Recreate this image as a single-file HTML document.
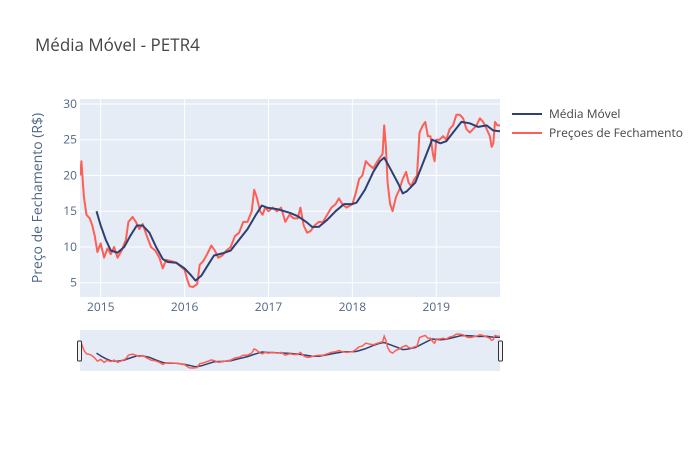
<!DOCTYPE html>
<html><head><meta charset="utf-8"><style>
body{margin:0;background:#fff;font-family:"Liberation Sans","DejaVu Sans",sans-serif}
svg text{font-family:"Open Sans","Liberation Sans","DejaVu Sans",sans-serif}
</style></head><body>
<svg id="c" width="700" height="450" xmlns="http://www.w3.org/2000/svg">
<rect width="700" height="450" fill="#fff"/>
<text x="35" y="51" font-size="17" fill="#444">Média Móvel - PETR4</text>
<rect x="80" y="99" width="420" height="198" fill="#e5ecf6"/>
<g id="grid"></g>
<g id="series" clip-path="url(#clip)"></g>
<defs><clipPath id="clip"><rect x="80" y="99" width="420" height="198"/></clipPath>
<clipPath id="clip2"><rect x="80" y="330" width="420" height="41"/></clipPath></defs>
<text transform="translate(42,198) rotate(-90)" text-anchor="middle" font-size="14" fill="#506784">Preço de Fechamento (R$)</text>
<rect x="80" y="330" width="420" height="41" fill="#e5ecf6"/>
<g id="slider" clip-path="url(#clip2)"></g>
<rect x="77.5" y="341" width="4" height="20" rx="1" fill="#f2f2f2" stroke="#333"/>
<rect x="498.5" y="341" width="4" height="20" rx="1" fill="#f2f2f2" stroke="#333"/>
<g>
<line x1="512" y1="114" x2="542" y2="114" stroke="#2e3f74" stroke-width="2"/>
<text x="549" y="118" font-size="12" fill="#444">Média Móvel</text>
<line x1="512" y1="133" x2="542" y2="133" stroke="#ef553b" stroke-width="2" style="stroke:#fe5f55"/>
<text x="549" y="137" font-size="12" fill="#444">Preçoes de Fechamento</text>
</g>
</svg>
<script>
const yTicks=[5,10,15,20,25,30];
const xTicks=[2015,2016,2017,2018,2019];
const priceT=[2014.755,2014.77,2014.8,2014.83,2014.87,2014.9,2014.93,2014.96,2015.0,2015.04,2015.08,2015.12,2015.16,2015.2,2015.25,2015.3,2015.33,2015.38,2015.42,2015.46,2015.5,2015.55,2015.6,2015.65,2015.7,2015.74,2015.78,2015.85,2015.9,2015.95,2016.0,2016.03,2016.06,2016.1,2016.15,2016.18,2016.22,2016.27,2016.32,2016.36,2016.4,2016.45,2016.5,2016.55,2016.6,2016.65,2016.7,2016.75,2016.8,2016.83,2016.86,2016.9,2016.93,2016.96,2017.0,2017.05,2017.1,2017.15,2017.2,2017.25,2017.3,2017.35,2017.38,2017.42,2017.46,2017.5,2017.55,2017.6,2017.65,2017.7,2017.75,2017.8,2017.84,2017.88,2017.93,2018.0,2018.04,2018.08,2018.12,2018.16,2018.2,2018.25,2018.3,2018.33,2018.36,2018.38,2018.4,2018.42,2018.45,2018.48,2018.52,2018.56,2018.6,2018.64,2018.67,2018.7,2018.74,2018.77,2018.8,2018.84,2018.87,2018.9,2018.93,2018.96,2018.98,2019.0,2019.04,2019.08,2019.12,2019.16,2019.2,2019.24,2019.28,2019.32,2019.36,2019.4,2019.44,2019.48,2019.52,2019.56,2019.6,2019.64,2019.66,2019.68,2019.7,2019.73,2019.76];
const priceV=[20,22,17,14.5,14,13,11.5,9.3,10.5,8.5,9.8,9,10,8.5,9.5,11,13.5,14.2,13.5,12.5,13.2,11.5,10,9.5,8.5,7,8.2,8,7.8,7.3,6.8,5.5,4.5,4.4,4.8,7.5,8,9,10.2,9.5,8.5,8.8,9.5,10,11.5,12,13.5,13.5,15,18,17,15,14.5,15.5,15,15.5,15,15.5,13.5,14.5,14,14,15.5,13,12,12.2,13,13.5,13.5,14.5,15.5,16,16.8,16,15.5,16,17.5,19.5,20,22,21.5,21,22,22.5,23,27,24,19,16,15,17,18,19.5,20.5,19,18.5,19.5,20,26,27,27.5,25.5,25.5,23,22,25,25,25.5,25,26.5,27,28.5,28.5,28,26.5,26,26.5,27,28,27.5,26.5,25.5,24,24.5,27.5,27,27];
const maT=[2014.95,2015.0,2015.06,2015.12,2015.2,2015.28,2015.35,2015.43,2015.5,2015.58,2015.66,2015.74,2015.8,2015.9,2016.0,2016.08,2016.13,2016.2,2016.28,2016.35,2016.45,2016.55,2016.65,2016.75,2016.85,2016.92,2016.98,2017.1,2017.25,2017.35,2017.45,2017.52,2017.6,2017.7,2017.8,2017.9,2018.0,2018.05,2018.15,2018.25,2018.33,2018.38,2018.45,2018.55,2018.6,2018.65,2018.75,2018.85,2018.95,2019.05,2019.12,2019.2,2019.3,2019.4,2019.5,2019.6,2019.68,2019.76];
const maV=[15,13,11,9.5,9.2,10,11.5,13,13,12,10,8.3,7.9,7.8,7,6,5.3,6,7.5,8.8,9.1,9.5,11,12.5,14.5,15.8,15.5,15.3,14.8,14.3,13.5,12.8,12.8,13.8,15,16,16,16.2,18,20.5,22,22.5,21,18.8,17.5,17.8,19,22,25,24.5,24.8,26,27.5,27.3,26.8,27,26.3,26.2];
const NS='http://www.w3.org/2000/svg';
const X=t=>80+(t-2014.753)*(420/(2019.76-2014.753));
const Y=v=>297-(v-3.0)*(198/27.7);
const YS=v=>370-(v-3.0)*(39/27.7);
function el(tag,attrs,parent){const e=document.createElementNS(NS,tag);for(const k in attrs)e.setAttribute(k,attrs[k]);parent.appendChild(e);return e;}
const grid=document.getElementById('grid');
yTicks.forEach(v=>{
 const l=el('line',{x1:80,x2:500,y1:Y(v),y2:Y(v),stroke:'#fff','stroke-width':1},grid);
 
 
 const t=el('text',{x:77,y:Y(v)+4,'text-anchor':'end','font-size':12,fill:'#506784'},grid);
 t.textContent=v;
 
 
});
xTicks.forEach(v=>{
 const l=el('line',{x1:X(v),x2:X(v),y1:99,y2:297,stroke:'#fff','stroke-width':1},grid);
 
 
 const t=el('text',{x:X(v),y:311,'text-anchor':'middle','font-size':12,fill:'#506784'},grid);
 t.textContent=v;
 
 
});
function path(ts,vs,yf){return ts.map((t,i)=>(i?'L':'M')+X(t).toFixed(1)+','+yf(vs[i]).toFixed(1)).join('');}
const s=document.getElementById('series'),sl=document.getElementById('slider');
const p1=el('path',{d:path(priceT,priceV,Y),fill:'none',stroke:'#fe5f55','stroke-width':2,'stroke-linejoin':'round'},s);


const p2=el('path',{d:path(maT,maV,Y),fill:'none',stroke:'#2e3f74','stroke-width':2,'stroke-linejoin':'round'},s);


const p3=el('path',{d:path(maT,maV,YS),fill:'none',stroke:'#2e3f74','stroke-width':1.5},sl);


const p4=el('path',{d:path(priceT,priceV,YS),fill:'none',stroke:'#fe5f55','stroke-width':1.5},sl);


</script>
</body></html>
